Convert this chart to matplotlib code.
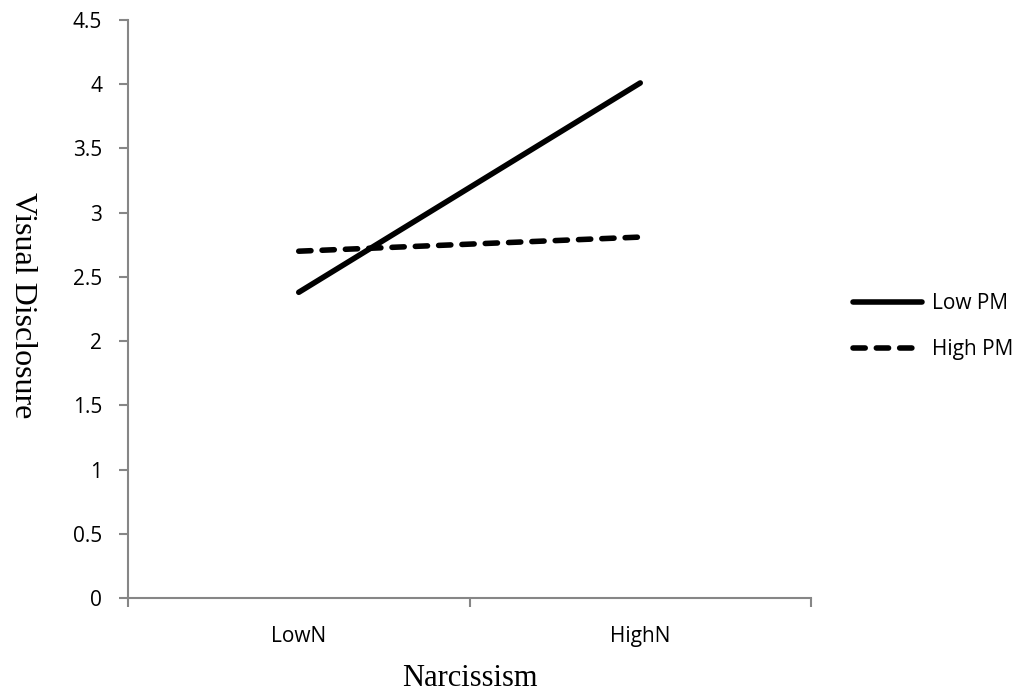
import matplotlib.pyplot as plt

categories = ["LowN", "HighN"]
low_pm = [2.38, 4.01]
high_pm = [2.70, 2.81]
yticks = [0, 0.5, 1, 1.5, 2, 2.5, 3, 3.5, 4, 4.5]
ytick_labels = ["0", "0.5", "1", "1.5", "2", "2.5", "3", "3.5", "4", "4.5"]

fig = plt.figure(figsize=(10.23, 6.92), dpi=100)
ax = fig.add_axes([128/1023, 1 - 598/692, (811-128)/1023, (598-20)/692])

x = [0.5, 1.5]
ax.plot(x, low_pm, color="black", lw=4, solid_capstyle="round", label="Low PM")
ax.plot(x, high_pm, color="black", lw=4, ls=(0, (2.2, 2.0)), dash_capstyle="round", label="High PM")

ax.set_xlim(0, 2)
ax.set_ylim(0, 4.5)
ax.set_yticks(yticks)
ax.set_yticklabels(ytick_labels)
ax.set_xticks([0, 1, 2])
ax.set_xticklabels([])
ax.set_xticks(x, minor=True)
ax.set_xticklabels(categories, minor=True)
ax.tick_params(axis="both", which="major", length=6.5, width=1.5, color="#868686", direction="out", labelsize=15)
ax.tick_params(axis="y", pad=12)
ax.tick_params(axis="x", which="minor", length=0, pad=20, labelsize=15)
for lbl in ax.get_xticklabels(minor=True) + ax.get_yticklabels():
    lbl.set_fontfamily("Open Sans")

for s in ["top", "right"]:
    ax.spines[s].set_visible(False)
for s in ["left", "bottom"]:
    ax.spines[s].set_color("#868686")
    ax.spines[s].set_linewidth(1.5)

ax.set_xlabel("Narcissism", fontfamily="Liberation Serif", fontsize=22, va="center")
ax.xaxis.set_label_coords(0.5, (598-678)/578)
ax.set_ylabel("Visual Disclosure", fontfamily="Liberation Serif", fontsize=23, rotation=270, va="center", ha="center")
ax.yaxis.set_label_coords((22-128)/683, (598-305)/578)

leg = ax.legend(loc="center left", bbox_to_anchor=(853/1023, 1 - 326.5/692), bbox_transform=fig.transFigure,
                frameon=False, borderpad=0, borderaxespad=0,
                prop={"family": "Open Sans", "size": 15}, handlelength=3.3, handletextpad=0.5, labelspacing=1.2)

fig.savefig("out.png", dpi=100)
